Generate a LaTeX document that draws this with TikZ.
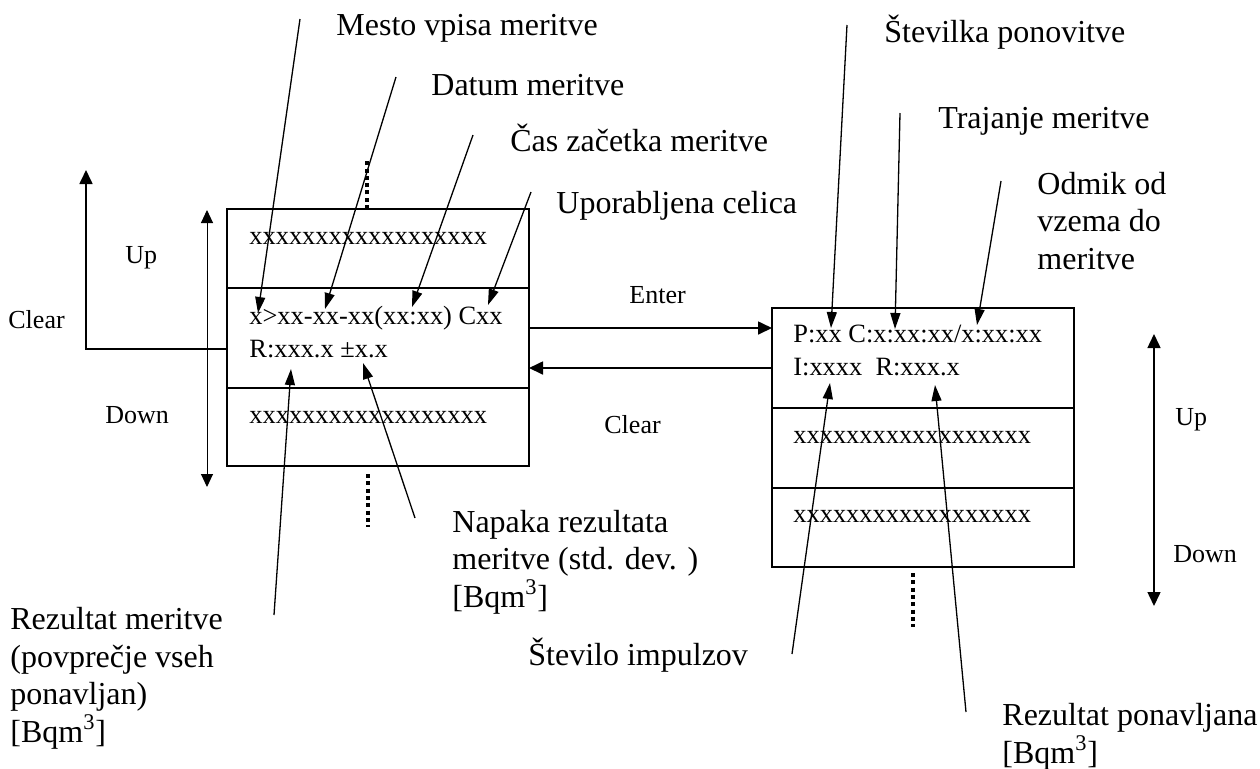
\documentclass[tikz,border=0pt]{standalone}
\usepackage{fontspec}
\setmainfont{Liberation Serif}
\usetikzlibrary{positioning, arrows.meta}

\begin{document}
\begin{tikzpicture}[
      x=0.5pt, y=-0.5pt,
      node distance=0pt,
      cell/.style={
        rectangle, draw, line width=1pt, outer sep=0pt, inner sep=0pt,
        minimum width=151pt,
      },
      celltext/.style={
        anchor=base west, inner sep=0pt, align=left,
        font=\fontsize{13.2}{16.5}\selectfont,
      },
      note/.style={
        anchor=base west, inner sep=0pt, align=left,
        font=\fontsize{16}{18.75}\selectfont,
      },
      key/.style={anchor=base west, inner sep=0pt, font=\fontsize{13}{15}\selectfont},
      pointer/.style={-{Triangle[length=8pt, width=5pt]}, line width=0.65pt},
      move/.style={-{Triangle[length=7pt, width=6.5pt]}, line width=0.85pt},
      more/.style={line width=2.4pt, dash pattern=on 2pt off 1.65pt},
    ]
      \useasboundingbox (0,0) rectangle (1260,768);

      % left screen
      \node[cell, minimum height=39.5pt] (l1) at (378,248.5) {};
      \node[cell, minimum height=50pt, below=of l1] (l2) {};
      \node[cell, minimum height=39pt, below=of l2] (l3) {};

      % right screen
      \node[cell, minimum height=50pt] (r1) at (923,358) {};
      \node[cell, minimum height=40pt, below=of r1] (r2) {};
      \node[cell, minimum height=39.5pt, below=of r2] (r3) {};

      % texts inside
      \node[celltext] (l1t) at ([shift={(11pt,-17.5pt)}]l1.north west) {xxxxxxxxxxxxxxxxxx};
      \node[celltext] (l2t) at ([shift={(11pt,-34.5pt)}]l2.north west) {x>xx-xx-xx(xx:xx) Cxx\\R:xxx.x ±x.x};
      \node[celltext] (l3t) at ([shift={(11pt,-17.5pt)}]l3.north west) {xxxxxxxxxxxxxxxxxx};
      \node[celltext] (r1t) at ([shift={(10.5pt,-33.5pt)}]r1.north west) {P:xx C:x:xx:xx/x:xx:xx\\I:xxxx\ \ R:xxx.x};
      \node[celltext] (r2t) at ([shift={(10.5pt,-17.5pt)}]r2.north west) {xxxxxxxxxxxxxxxxxx};
      \node[celltext] (r3t) at ([shift={(10.5pt,-17pt)}]r3.north west) {xxxxxxxxxxxxxxxxxx};

      % more lines above and below
      \draw[more] ([xshift=-5.5pt]l1.north) -- ++(0,-51);
      \draw[more] ([xshift=-5pt,yshift=-4pt]l3.south) -- ++(0,53);
      \draw[more] ([xshift=-5pt,yshift=-3pt]r3.south) -- ++(0,54);

      % keys
      \node[key] (clearl) at (8,328) {Clear};
      \node[key] (upl) at (125,263) {Up};
      \node[key] (downl) at (105,423) {Down};
      \node[key] (enter) at (629,303) {Enter};
      \node[key] (clearm) at (604,433) {Clear};
      \node[key] (upr) at (1175,425) {Up};
      \node[key] (downr) at (1173,562) {Down};

      \coordinate (cleartop) at (86,170);
      \coordinate (lscrtop) at (207,210);
      \coordinate (lscrbot) at (207,487);
      \coordinate (rscrtop) at (1154,334);
      \coordinate (rscrbot) at (1154,606);

      % Draw key arrows
      \draw[move] ([yshift=-5.5pt]l2.west) -| (cleartop);
      \draw[move] ([yshift=5pt]l2.east) -- ([yshift=15pt]r1.west);
      \draw[move] ([yshift=-5pt]r1.west) -- ([yshift=-15pt]l2.east);
      \draw[{Triangle[length=6.5pt, width=6pt]}-{Triangle[length=6.5pt, width=6pt]}, line width=0.5pt]
        (lscrtop) -- (lscrbot);
      \draw[{Triangle[length=7pt, width=6.5pt]}-{Triangle[length=7pt, width=6.5pt]}, line width=0.75pt]
        (rscrtop) -- (rscrbot);

      % labels
      \node[note] (mestolbl) at (336,35) {Mesto vpisa meritve};
      \node[note] (datumlbl) at (431,95) {Datum meritve};
      \node[note] (caslbl) at (510,151) {Čas začetka meritve};
      \node[note] (celicalbl) at (556,213) {Uporabljena celica};
      \node[note] (stevlbl) at (884,42) {Številka ponovitve};
      \node[note] (trajlbl) at (938,128) {Trajanje meritve};
      \node[note] (odmiklbl) at (1037,269) {Odmik od\\vzema do\\meritve};
      \node[note] (napakalbl) at (452,607) {Napaka rezultata\\meritve (std. dev. )\\{}[Bqm\textsuperscript{3}]};
      \node[note] (rezmlbl) at (10,742) {Rezultat meritve\\(povprečje vseh\\ponavljan)\\{}[Bqm\textsuperscript{3}]};
      \node[note] (implbl) at (528,665) {Število impulzov};
      \node[note] (rezplbl) at (1002,763) {Rezultat ponavljana\\{}[Bqm\textsuperscript{3}]};

      % pointer ends
      \coordinate (mesto) at (300,19);     \coordinate (mestotip) at (258,313);
      \coordinate (datum) at (396,77);     \coordinate (datumtip) at (325,309);
      \coordinate (cas) at (473,135);      \coordinate (castip) at (412,307);
      \coordinate (celica) at (531,192);   \coordinate (celicatip) at (488,305);
      \coordinate (rezm) at (274,615);     \coordinate (rezmtip) at (291,369);
      \coordinate (napaka) at (415,518);   \coordinate (napakatip) at (363,363);
      \coordinate (stev) at (847,25);      \coordinate (stevtip) at (831,328);
      \coordinate (traj) at (900,113);     \coordinate (trajtip) at (895,329);
      \coordinate (odmik) at (1001,181);   \coordinate (odmiktip) at (977,325);
      \coordinate (imp) at (792,654);      \coordinate (imptip) at (830,383);
      \coordinate (rezp) at (966,712);     \coordinate (rezptip) at (935,385);

      % Draw pointers
      \draw[pointer] (mesto) -- (mestotip);
      \draw[pointer] (datum) -- (datumtip);
      \draw[pointer] (cas) -- (castip);
      \draw[pointer] (celica) -- (celicatip);
      \draw[pointer] (rezm) -- (rezmtip);
      \draw[pointer] (napaka) -- (napakatip);
      \draw[pointer] (stev) -- (stevtip);
      \draw[pointer] (traj) -- (trajtip);
      \draw[pointer] (odmik) -- (odmiktip);
      \draw[pointer] (imp) -- (imptip);
      \draw[pointer] (rezp) -- (rezptip);
    \end{tikzpicture}
\end{document}
